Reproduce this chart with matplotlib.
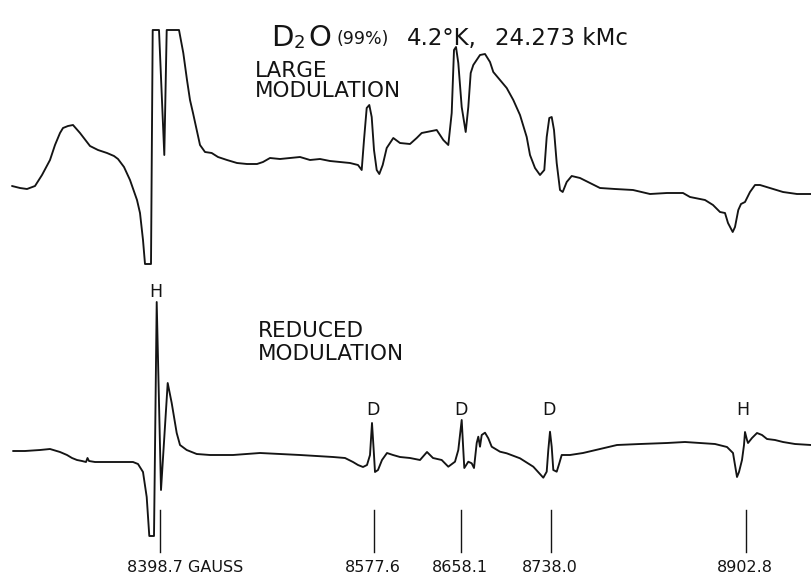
import matplotlib
matplotlib.use("Agg")
import matplotlib.pyplot as plt
import numpy as np

# ---------------- data ----------------
# chart position along the field sweep (recorder units) and pen deflection (upward positive)
large_pos = [12, 20, 27, 35, 42, 50, 55, 60, 63, 68, 73, 80, 90, 98, 107, 114, 118, 124, 130, 137,
             140, 143, 145, 151, 152.7, 159, 164.3, 166.7, 179, 183.3, 187, 190, 193, 196.7, 200,
             205, 211.7, 218, 227, 237, 247, 257, 263, 270, 280, 290, 300, 310, 320, 330, 340, 350,
             358, 361.7, 364, 366.7, 369.3, 371.7, 374, 376.7, 379.3, 382.7, 386.7, 393.3, 400, 410,
             416.7, 421.7, 436.7, 443.3, 448.3, 451.7, 454, 456, 458.3, 461.7, 465.7, 468.3, 470.7,
             473.3, 476.7, 480, 485, 490, 493.3, 500, 506.7, 513.3, 520, 526.7, 530, 535, 540, 544.3,
             546.7, 549.3, 551.7, 554, 556.7, 560, 562.7, 566.7, 571.7, 580, 590, 600, 615, 633, 650,
             667, 683, 690, 705, 713, 720, 725, 728, 732.7, 735, 738.3, 741, 745, 750, 755, 760, 770,
             783, 797, 811]
large_chart = [186, 188, 189, 186, 175, 160, 145, 133, 128, 126, 125, 133, 146, 150, 153, 156, 159,
               167, 180, 200, 213, 240, 264, 264, 30, 30, 155, 30, 30, 53, 80, 100, 113, 130, 145,
               152, 153, 157, 160, 163, 164, 164, 162, 158, 159, 158, 157, 160, 159, 161, 162, 163,
               165, 170, 140, 108, 105, 117, 150, 170, 174, 165, 148, 138, 143, 144, 138, 133, 130,
               140, 145, 113, 50, 47, 63, 107, 132, 107, 73, 65, 60, 55, 54, 62, 72, 80, 88, 100,
               115, 137, 155, 168, 175, 170, 137, 118, 117, 130, 163, 190, 192, 182, 176, 178, 183,
               188, 189, 190, 194, 193, 193, 197, 200, 205, 212, 213, 223, 232, 227, 210, 204, 202,
               192, 185, 185, 188, 192, 194, 194]

reduced_pos = [13, 25, 40, 50, 60, 67, 72, 77, 82, 86, 87.5, 89, 95, 110, 125, 133, 138, 143, 146.7,
               149.3, 154, 156.7, 161, 167.7, 171.7, 176.7, 180, 186.7, 196.7, 210, 233, 260, 280,
               300, 333, 345, 353, 358, 363, 367, 370, 372, 374, 375, 378, 382, 387, 393, 400, 410,
               420, 427, 433, 441.7, 448.3, 455, 458.3, 461.7, 463.3, 464.3, 468.3, 471.7, 474,
               476.7, 478.3, 480, 481.7, 485, 488.3, 491.7, 500, 506.7, 520, 533.3, 543.3, 546.7,
               548.3, 550, 551.7, 553.3, 556.7, 559.3, 561.7, 570, 583, 600, 617, 640, 667, 685, 700,
               715, 727, 733, 735, 737, 739, 742, 744, 745, 747, 748, 752, 757, 762, 767, 775, 783,
               795, 811]
reduced_chart = [451, 451, 450, 449, 452, 455, 458, 460, 461, 462, 458, 461, 462, 462, 462, 462, 464,
                 472, 497, 536, 536, 302, 490, 383, 403, 433, 445, 450, 454, 455, 455, 453, 454, 455,
                 457, 458, 462, 465, 467, 465, 455, 423, 455, 472, 470, 460, 453, 455, 457, 458, 460,
                 452, 458, 460, 466.7, 461.7, 450, 420, 450, 468, 461.7, 463.3, 468, 443, 436.7,
                 446.7, 435, 432.7, 438.3, 446.7, 451.7, 453.3, 458.3, 466.7, 477.7, 471.7, 450,
                 431.7, 446.7, 470, 471.7, 463.3, 455, 455, 453, 449, 445, 444, 443, 442, 443, 444,
                 447, 453, 465, 477, 472, 460, 445, 432, 440, 443, 438, 433, 435, 439, 440, 442, 444,
                 445]

# base lines of the two traces on the chart (deflection measured from them)
LARGE_BASE = 186
REDUCED_BASE = 451
large_defl = [LARGE_BASE - v for v in large_chart]
reduced_defl = [REDUCED_BASE - v for v in reduced_chart]

# resonance field markers
marker_pos = [160, 374, 461, 551, 746]
marker_field = ["8398.7", "8577.6", "8658.1", "8738.0", "8902.8"]
line_pos = [156, 373, 461, 549, 743]
line_label = ["H", "D", "D", "D", "H"]

# ---------------- figure ----------------
W, H = 811, 573
fig = plt.figure(figsize=(W / 100, H / 100), dpi=100)
fig.patch.set_facecolor("white")
ax = fig.add_axes([0, 0, 1, 1])
ax.set_xlim(0, W)
ax.set_ylim(H, 0)
ax.axis("off")

ink = "#141414"
ax.plot(large_pos, [LARGE_BASE - d for d in large_defl], color=ink, lw=1.35,
        solid_joinstyle="round", solid_capstyle="round")
ax.plot(reduced_pos, [REDUCED_BASE - d for d in reduced_defl], color=ink, lw=1.35,
        solid_joinstyle="round", solid_capstyle="round")

font = "DejaVu Sans"
# title pieces
ax.text(271, 46, "D", fontsize=21, color=ink, family=font, va="baseline", ha="left")
ax.text(294, 48.5, "2", fontsize=13, color=ink, family=font, va="baseline", ha="left")
ax.text(308, 46, "O", fontsize=21, color=ink, family=font, va="baseline", ha="left")
ax.text(337, 44, "(99%)", fontsize=12.5, color=ink, family=font, va="baseline", ha="left")
ax.text(407, 45, "4.2°K,", fontsize=16.5, color=ink, family=font, va="baseline", ha="left")
ax.text(495, 45, "24.273 kMc", fontsize=16.5, color=ink, family=font, va="baseline", ha="left")

ax.text(255, 77, "LARGE", fontsize=15.5, color=ink, family=font, va="baseline", ha="left")
ax.text(255, 97, "MODULATION", fontsize=15.5, color=ink, family=font, va="baseline", ha="left")
ax.text(258, 337, "REDUCED", fontsize=15.5, color=ink, family=font, va="baseline", ha="left")
ax.text(258, 360, "MODULATION", fontsize=15.5, color=ink, family=font, va="baseline", ha="left")

# resonance labels
for i, (x, lab) in enumerate(zip(line_pos, line_label)):
    y = 297 if i == 0 else 415
    ax.text(x, y, lab, fontsize=12.5, color=ink, family=font, va="baseline", ha="center")

# field markers
for i, (x, lab) in enumerate(zip(marker_pos, marker_field)):
    ax.plot([x, x], [510, 552], color=ink, lw=1.0)
    if i == 0:
        ax.text(x - 33, 571.5, lab + " GAUSS", fontsize=11.5, color=ink, family=font,
                va="baseline", ha="left")
    else:
        ax.text(x - 1, 571.5, lab, fontsize=11.5, color=ink, family=font,
                va="baseline", ha="center")

fig.savefig("out.png", dpi=100, facecolor="white")
